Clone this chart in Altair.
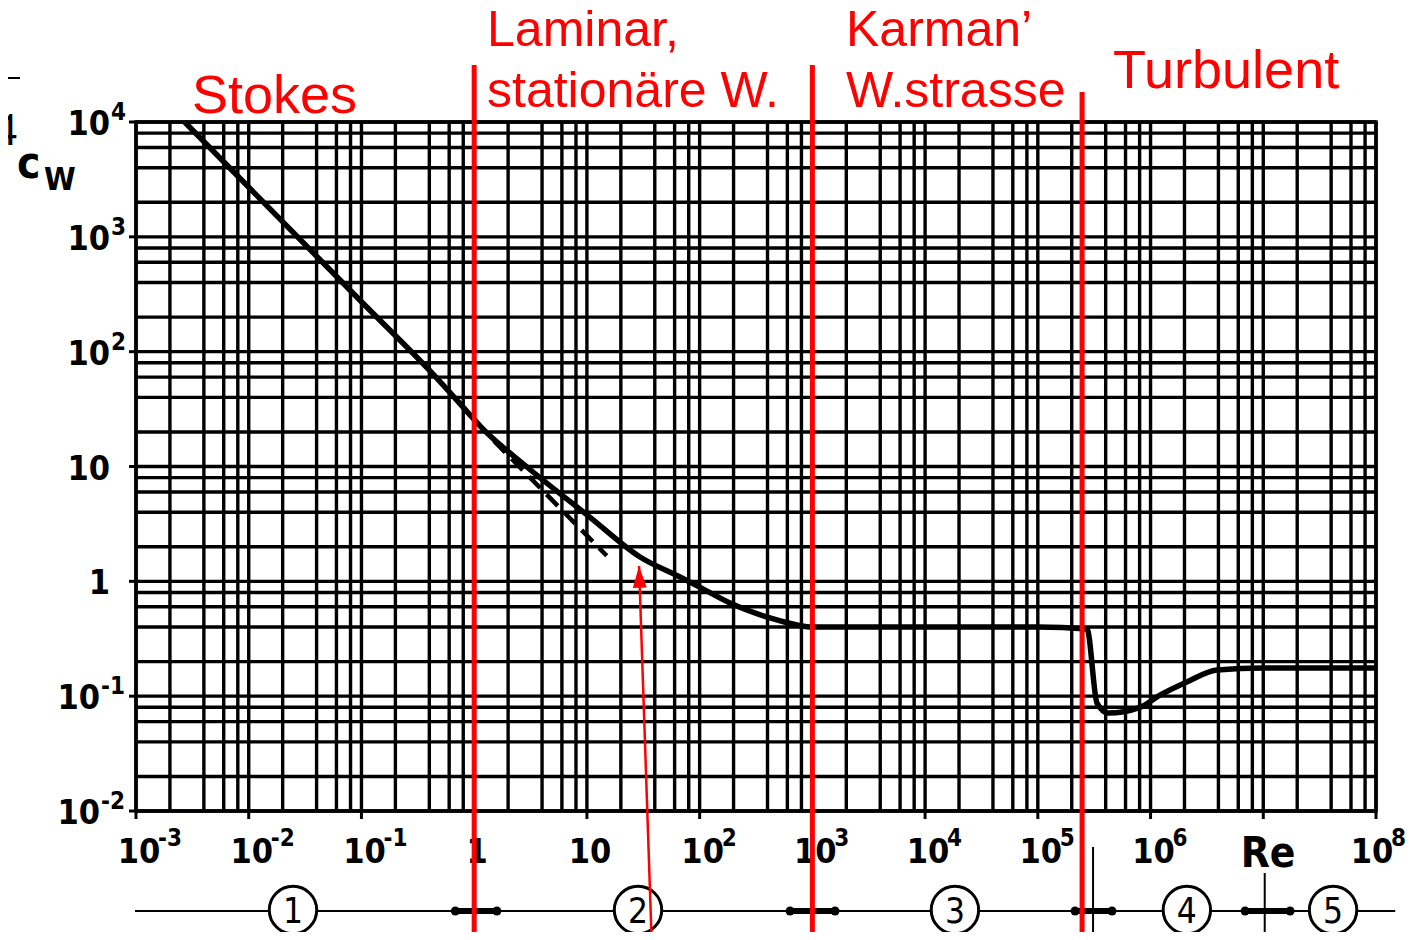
import altair as alt
import pandas as pd

W, H = 1240, 689
FONT = "DejaVu Sans Condensed, Liberation Sans Narrow, sans-serif"
RED = "#ff0000"

# ---- drag curve c_w(Re) ----
re_curve = [0.0027, 0.01, 0.1, 0.43, 0.88, 1.13, 2.94, 10.6, 29.6, 67, 100, 186, 421, 731,
            1000, 1e4, 1e5, 2.73e5, 3.35e5, 4.2e5, 8.06e5, 1.21e6, 2.1e6, 3.88e6, 1e7, 1e8]
cw_curve = [10000, 2700, 272, 64, 29.5, 22.5, 9.9, 3.63, 1.63, 1.09, 0.89, 0.647, 0.48, 0.417,
            0.40, 0.40, 0.40, 0.385, 0.087, 0.0713, 0.080, 0.102, 0.133, 0.169, 0.176, 0.176]

# dashed Stokes continuation
re_dash = [1.5, 15]
cw_dash = [16.7, 1.67]

# grid lines (log paper: 1, 2, 4, 6, 8 per decade)
grid_mult = [1, 2, 4, 6, 8]
x_grid = [m * 10.0 ** k for k in range(-3, 8) for m in grid_mult] + [1e8]
y_grid = [m * 10.0 ** k for k in range(-2, 4) for m in grid_mult] + [1e4]

# tick labels
x_tick_vals = [1e-3, 1e-2, 1e-1, 1, 10, 1e2, 1e3, 1e4, 1e5, 1e6, 1e8]
x_tick_base = ["10", "10", "10", "1", "10", "10", "10", "10", "10", "10", "10"]
x_tick_exp = ["-3", "-2", "-1", "", "", "2", "3", "4", "5", "6", "8"]
x_major = [10.0 ** k for k in range(-3, 9)]

y_tick_vals = [1e4, 1e3, 1e2, 10, 1, 0.1, 0.01]
y_tick_base = ["10", "10", "10", "10", "1", "10", "10"]
y_tick_exp = ["4", "3", "2", "", "", "-1", "-2"]

# regime annotations
red_line_re = [1, 1e3]
red_line_re2 = [2.47e5]
regime_labels = ["Stokes", "Laminar,", "stationäre W.", "Karman’", "W.strasse", "Turbulent"]
regime_x = [0.00314, 1.30, 1.30, 1987, 1987, 4.65e5]
regime_y = [-9, -76, -15, -76, -15, -34]
regime_size = [54, 50, 50, 50, 50, 54]

# bottom regime bar
circle_re = [0.0247, 28.4, 1.84e4, 2.1e6, 4.16e7]
circle_num = ["1", "2", "3", "4", "5"]
seg_lo = [0.68, 634, 2.14e5, 6.9e6]
seg_hi = [1.59, 1589, 4.55e5, 1.73e7]
bar_span = [0.00098, 1.48e8]
sep_re = [3.09e5, 1.03e7]
sep_top = [725, 751]

# arrow
arrow_tip = (29, 1.36)
arrow_foot_re = 37.8

xs = alt.Scale(type="log", domain=[1e-3, 1e8], nice=False)
ys = alt.Scale(type="log", domain=[1e-2, 1e4], nice=False)

# grid drawn through the scales
xg = alt.Chart(pd.DataFrame({"v": x_grid})).mark_rule(color="black", strokeWidth=3.4).encode(
    x=alt.X("v:Q", scale=xs, axis=None), y=alt.value(0), y2=alt.value(H))
yg = alt.Chart(pd.DataFrame({"v": y_grid})).mark_rule(color="black", strokeWidth=3.4).encode(
    y=alt.Y("v:Q", scale=ys, axis=None), x=alt.value(0), x2=alt.value(W))

curve_df = pd.DataFrame({"Re": re_curve, "cw": cw_curve})
curve = alt.Chart(curve_df).mark_line(color="black", strokeWidth=5.5, interpolate="monotone").encode(
    x=alt.X("Re:Q", scale=xs, axis=None),
    y=alt.Y("cw:Q", scale=ys, axis=None),
)

dash = alt.Chart(pd.DataFrame({"Re": re_dash, "cw": cw_dash})).mark_line(
    color="black", strokeWidth=4.5, strokeDash=[16, 9]).encode(
    x=alt.X("Re:Q", scale=xs, axis=None), y=alt.Y("cw:Q", scale=ys, axis=None))

# major ticks
xt_df = pd.DataFrame({"v": x_major})
xticks = alt.Chart(xt_df).mark_rule(color="black", strokeWidth=3).encode(
    x=alt.X("v:Q", scale=xs, axis=None), y=alt.value(H), y2=alt.value(H + 8))
yt_df = pd.DataFrame({"v": y_tick_vals})
yticks = alt.Chart(yt_df).mark_rule(color="black", strokeWidth=3).encode(
    y=alt.Y("v:Q", scale=ys, axis=None), x=alt.value(-7), x2=alt.value(0))

# x tick labels
xl_df = pd.DataFrame({"v": x_tick_vals, "base": x_tick_base, "exp": x_tick_exp})
xl_base_a = alt.Chart(xl_df.iloc[:-1]).mark_text(font=FONT, fontSize=34, fontWeight="bold",
                                                 align="center", baseline="alphabetic", dx=3).encode(
    x=alt.X("v:Q", scale=xs, axis=None), y=alt.value(741), text="base:N")
xl_base_b = alt.Chart(xl_df.iloc[-1:]).mark_text(font=FONT, fontSize=34, fontWeight="bold",
                                                 align="center", baseline="alphabetic", dx=-4).encode(
    x=alt.X("v:Q", scale=xs, axis=None), y=alt.value(741), text="base:N")
xl_exp_a = alt.Chart(xl_df.iloc[:-1]).mark_text(font=FONT, fontSize=24, fontWeight="bold",
                                                align="left", baseline="alphabetic", dx=22).encode(
    x=alt.X("v:Q", scale=xs, axis=None), y=alt.value(724), text="exp:N")
xl_exp_b = alt.Chart(xl_df.iloc[-1:]).mark_text(font=FONT, fontSize=24, fontWeight="bold",
                                                align="left", baseline="alphabetic", dx=15).encode(
    x=alt.X("v:Q", scale=xs, axis=None), y=alt.value(724), text="exp:N")

# y tick labels
yl_df = pd.DataFrame({"v": y_tick_vals, "base": y_tick_base, "exp": y_tick_exp})
yl_pos = yl_df[~yl_df["exp"].str.startswith("-")]
yl_neg = yl_df[yl_df["exp"].str.startswith("-")]


def ylabels(df, right):
    b = alt.Chart(df).mark_text(font=FONT, fontSize=34, fontWeight="bold", align="right",
                                baseline="middle", dy=3).encode(
        y=alt.Y("v:Q", scale=ys, axis=None), x=alt.value(right), text="base:N")
    e = alt.Chart(df).mark_text(font=FONT, fontSize=24, fontWeight="bold", align="left",
                                baseline="middle", dy=-9).encode(
        y=alt.Y("v:Q", scale=ys, axis=None), x=alt.value(right + 1), text="exp:N")
    return b + e


ylab = ylabels(yl_pos, -26) + ylabels(yl_neg, -36)

# axis titles
one = pd.DataFrame({"t": [0]})
cw_c = alt.Chart(one).mark_text(text="c", font=FONT, fontSize=44, fontWeight="bold",
                                align="left", baseline="alphabetic").encode(
    x=alt.value(-119), y=alt.value(56))
cw_w = alt.Chart(one).mark_text(text="W", font=FONT, fontSize=32, fontWeight="bold",
                                align="left", baseline="alphabetic").encode(
    x=alt.value(-92), y=alt.value(68))
re_lab = alt.Chart(one).mark_text(text="Re", font=FONT, fontSize=42, fontWeight="bold",
                                  align="center", baseline="alphabetic").encode(
    x=alt.value(1132), y=alt.value(745))

# slide fragments at the left edge
frag4 = alt.Chart(one).mark_text(text="4", font="Liberation Serif", fontSize=46,
                                 align="right", baseline="alphabetic").encode(
    x=alt.value(-119), y=alt.value(23))
fragbar = alt.Chart(one).mark_rule(color="black", strokeWidth=2).encode(
    x=alt.value(-140), x2=alt.value(-116), y=alt.value(-44))

# bottom regime bar
bar = alt.Chart(pd.DataFrame({"a": [bar_span[0]], "b": [bar_span[1]]})).mark_rule(
    color="black", strokeWidth=2).encode(
    x=alt.X("a:Q", scale=xs, axis=None), x2="b:Q", y=alt.value(789))
seg_df = pd.DataFrame({"lo": seg_lo, "hi": seg_hi})
segs = alt.Chart(seg_df).mark_rule(color="black", strokeWidth=6, strokeCap="round").encode(
    x=alt.X("lo:Q", scale=xs, axis=None), x2="hi:Q", y=alt.value(789))
dots_df = pd.DataFrame({"x": seg_lo + seg_hi})
dots = alt.Chart(dots_df).mark_circle(color="black", size=80, opacity=1).encode(
    x=alt.X("x:Q", scale=xs, axis=None), y=alt.value(789))
sep_df = pd.DataFrame({"x": sep_re, "top": sep_top})
seps = alt.layer(*[
    alt.Chart(sep_df.iloc[[i]]).mark_rule(color="black", strokeWidth=2).encode(
        x=alt.X("x:Q", scale=xs, axis=None), y=alt.value(int(sep_top[i])), y2=alt.value(H + 140))
    for i in range(len(sep_re))
])
circ_df = pd.DataFrame({"x": circle_re, "n": circle_num})
circles = alt.Chart(circ_df).mark_point(shape="circle", size=2250, filled=True, fill="white",
                                        stroke="black", strokeWidth=3, opacity=1).encode(
    x=alt.X("x:Q", scale=xs, axis=None), y=alt.value(788))
circ_txt = alt.Chart(circ_df).mark_text(font=FONT, fontSize=35, baseline="middle",
                                        align="center", dy=2).encode(
    x=alt.X("x:Q", scale=xs, axis=None), y=alt.value(788), text="n:N")

# red regime lines
red1 = alt.Chart(pd.DataFrame({"x": red_line_re})).mark_rule(color=RED, strokeWidth=5).encode(
    x=alt.X("x:Q", scale=xs, axis=None), y=alt.value(-57), y2=alt.value(H + 140))
red2 = alt.Chart(pd.DataFrame({"x": red_line_re2})).mark_rule(color=RED, strokeWidth=5).encode(
    x=alt.X("x:Q", scale=xs, axis=None), y=alt.value(-30), y2=alt.value(H + 140))

reg_df = pd.DataFrame({"x": regime_x, "y": regime_y, "t": regime_labels, "s": regime_size})
reg_layers = []
for i in range(len(regime_labels)):
    reg_layers.append(
        alt.Chart(reg_df.iloc[[i]]).mark_text(font="Liberation Sans, Arial, sans-serif",
                                             fontSize=int(regime_size[i]), color=RED,
                                             align="left", baseline="alphabetic").encode(
            x=alt.X("x:Q", scale=xs, axis=None), y=alt.value(int(regime_y[i])), text="t:N"))
regimes = alt.layer(*reg_layers)

# red arrow
arr_df = pd.DataFrame({"x1": [arrow_tip[0]], "y1": [arrow_tip[1]], "x2": [arrow_foot_re]})
arrow_shaft = alt.Chart(arr_df).mark_rule(color=RED, strokeWidth=2.5).encode(
    x=alt.X("x1:Q", scale=xs, axis=None), x2="x2:Q",
    y=alt.Y("y1:Q", scale=ys, axis=None), y2=alt.value(H + 140))
arrow_head = alt.Chart(arr_df).mark_point(shape="M0,0L0.32,1L-0.32,1Z", size=1900, filled=True,
                                          color=RED, opacity=1, angle=358).encode(
    x=alt.X("x1:Q", scale=xs, axis=None), y=alt.Y("y1:Q", scale=ys, axis=None))

chart = alt.layer(
    xg, yg, curve, dash, xticks, yticks, xl_base_a, xl_base_b, xl_exp_a, xl_exp_b, ylab,
    cw_c, cw_w, re_lab, frag4, fragbar, bar, segs, dots, seps, circles, circ_txt,
    red1, red2, regimes, arrow_shaft, arrow_head,
).properties(
    width=W, height=H,
    padding={"left": 128, "top": 114, "right": 33, "bottom": 121},
    autosize=alt.AutoSizeParams(type="none"),
).configure_view(stroke="black", strokeWidth=3.5)

chart.save("out.html", embed_options={"renderer": "svg", "actions": False})
